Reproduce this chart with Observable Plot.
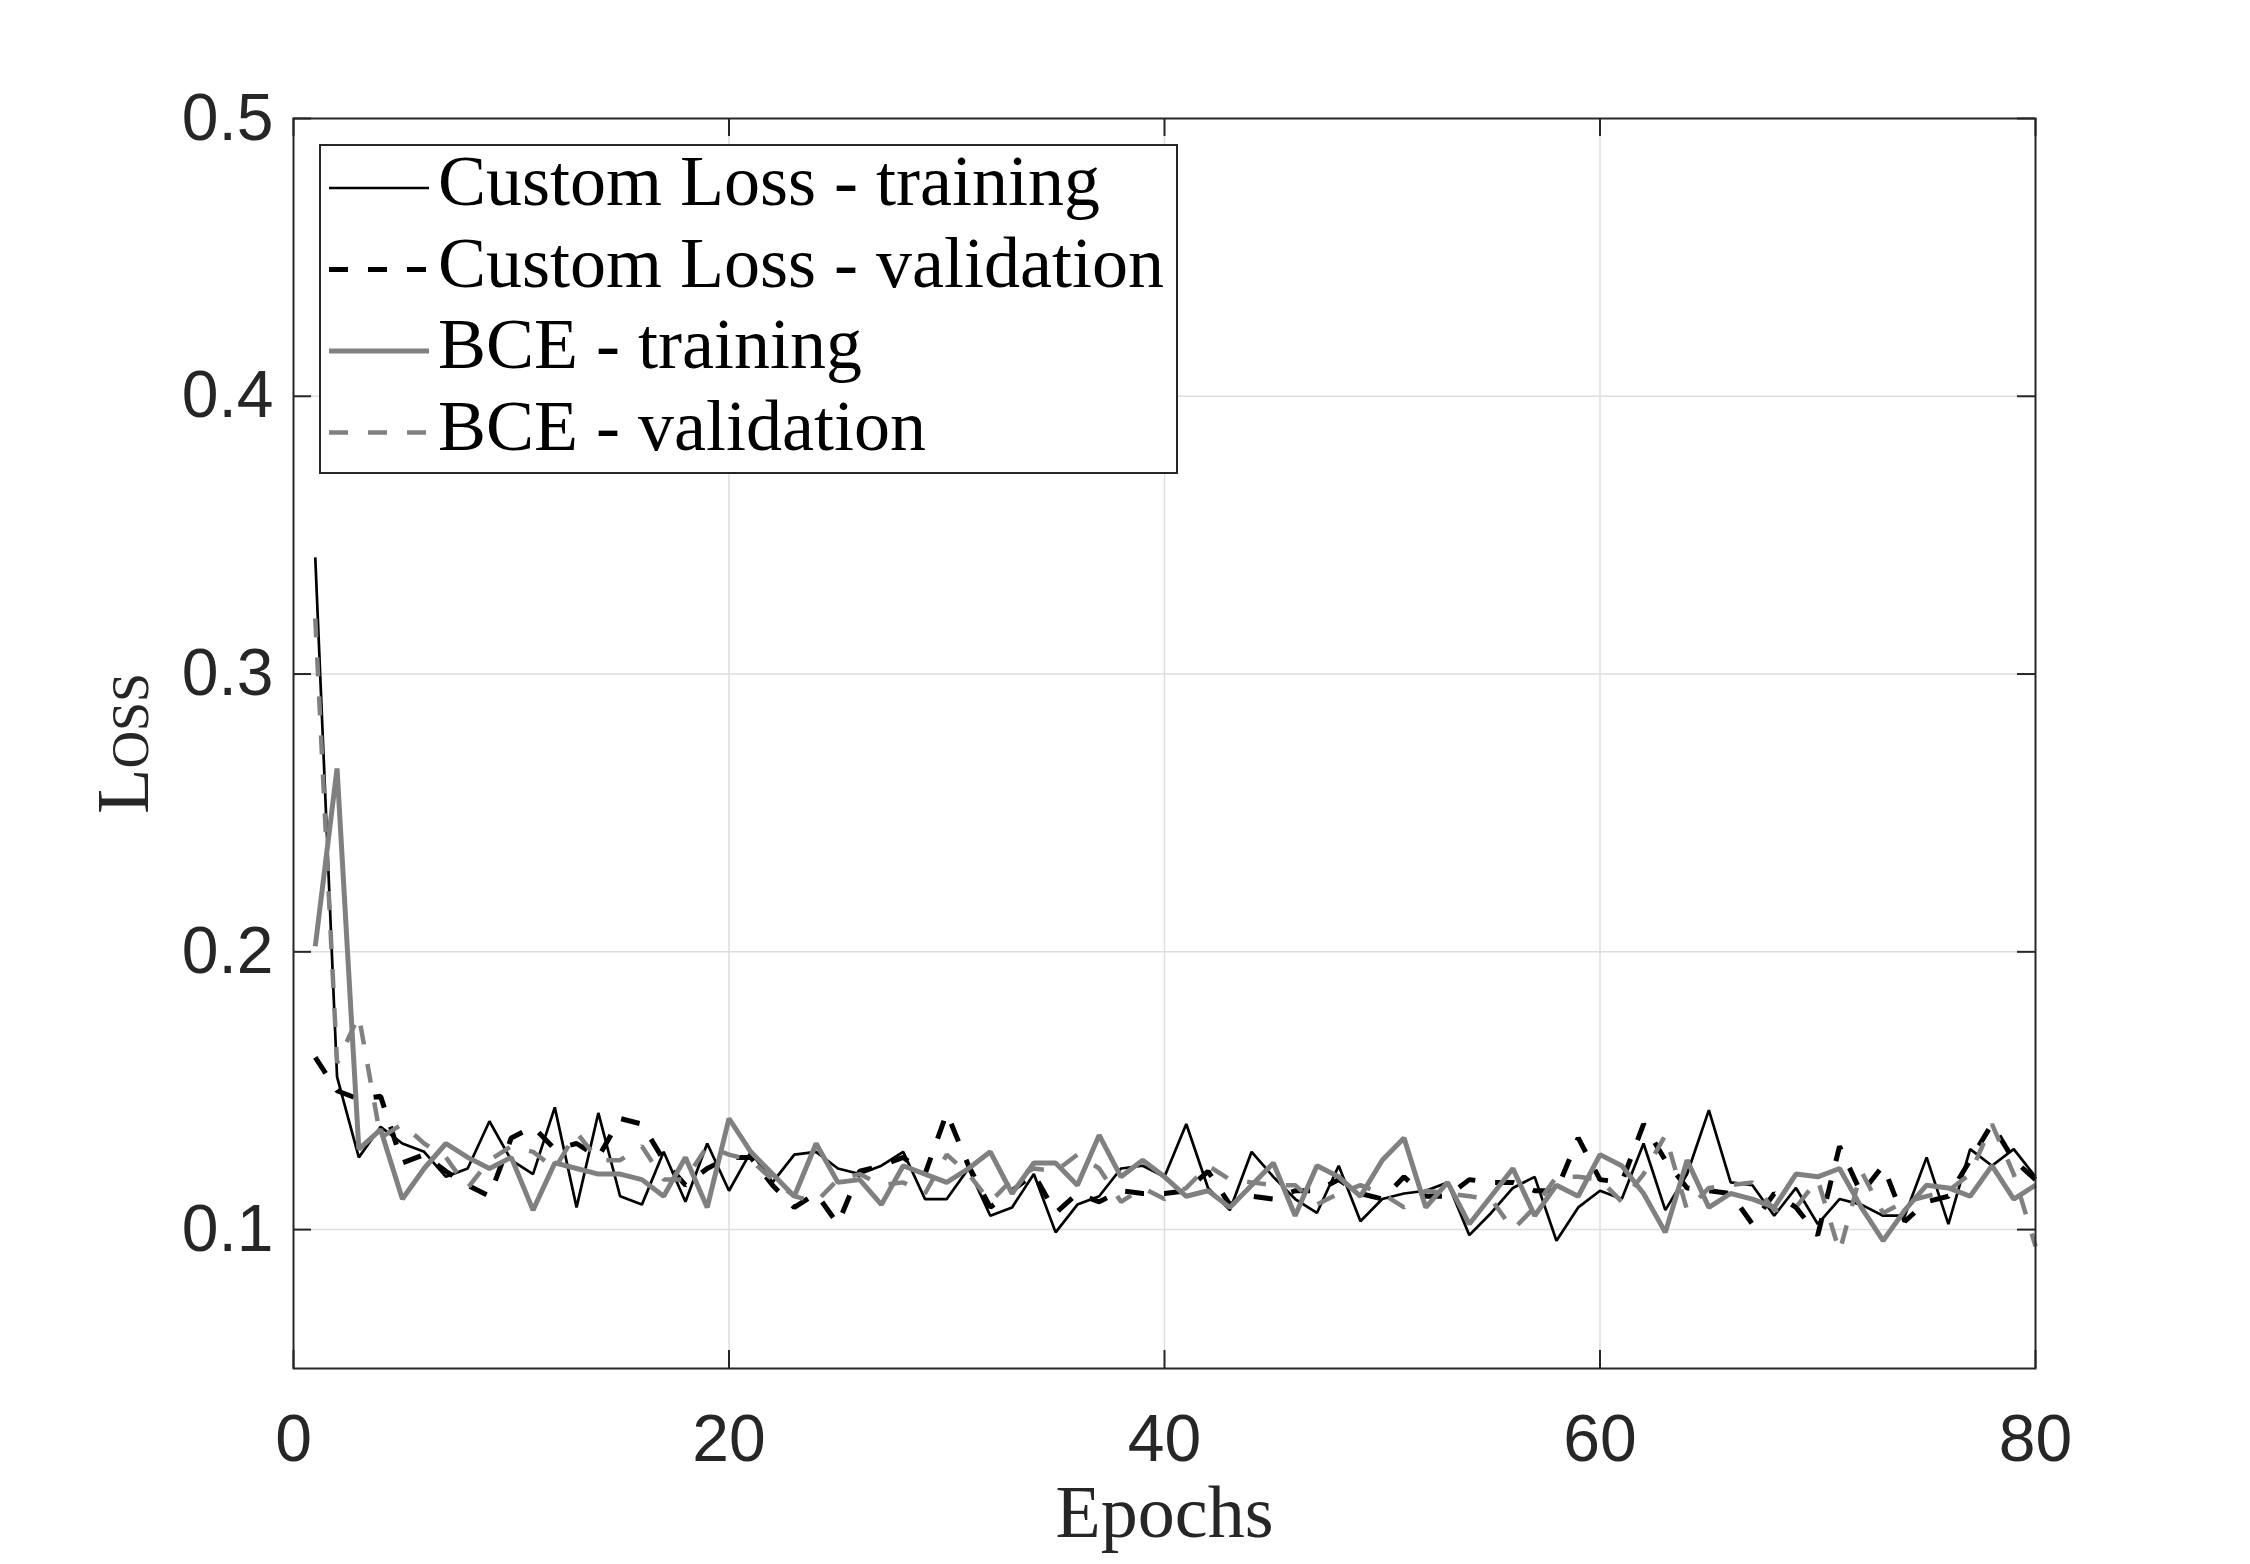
<!DOCTYPE html>
<html><head><meta charset="utf-8">
<script src="https://cdn.jsdelivr.net/npm/d3@7"></script>
<script src="https://cdn.jsdelivr.net/npm/@observablehq/plot@0.6"></script>
<style>
html,body{margin:0;padding:0;background:#fff;overflow:hidden}
#wrap{position:relative;width:2250px;height:1564px}
#legend{position:absolute;left:299px;top:114px;overflow:visible}
</style></head><body><div id="wrap"></div>
<script>
// ---- data ----
const seriesNames = ["Custom Loss - training", "Custom Loss - validation", "BCE - training", "BCE - validation"];
const xTicks = [0, 20, 40, 60, 80];
const yTicks = [0.1, 0.2, 0.3, 0.4, 0.5];

const customTraining = [
0.342,0.155,0.126,0.137,0.131,0.128,0.119,0.122,0.139,0.125,
0.120,0.144,0.108,0.142,0.112,0.109,0.128,0.110,0.131,0.114,
0.128,0.117,0.127,0.128,0.122,0.120,0.123,0.128,0.111,0.111,
0.122,0.105,0.108,0.120,0.099,0.109,0.112,0.122,0.123,0.119,
0.138,0.115,0.107,0.128,0.119,0.111,0.106,0.123,0.103,0.111,
0.113,0.114,0.117,0.098,0.106,0.115,0.119,0.096,0.108,0.114,
0.111,0.131,0.107,0.120,0.143,0.117,0.116,0.105,0.115,0.102,
0.111,0.109,0.105,0.105,0.126,0.102,0.129,0.123,0.129,0.119];

const customValidation = [
0.162,0.150,0.147,0.148,0.124,0.127,0.121,0.116,0.112,0.133,
0.137,0.129,0.131,0.126,0.140,0.138,0.125,0.116,0.122,0.126,
0.126,0.116,0.108,0.113,0.102,0.121,0.123,0.126,0.120,0.142,
0.123,0.108,0.114,0.120,0.106,0.113,0.110,0.114,0.113,0.113,
0.114,0.121,0.109,0.112,0.111,0.114,0.114,0.118,0.113,0.111,
0.119,0.112,0.112,0.118,0.117,0.117,0.114,0.114,0.133,0.118,
0.117,0.138,0.125,0.115,0.114,0.113,0.102,0.113,0.108,0.098,
0.130,0.113,0.123,0.103,0.110,0.112,0.125,0.138,0.125,0.118];

const bceTraining = [
0.202,0.266,0.129,0.136,0.111,0.122,0.131,0.126,0.122,0.126,
0.107,0.124,0.122,0.120,0.120,0.118,0.112,0.126,0.108,0.140,
0.128,0.120,0.112,0.131,0.117,0.118,0.109,0.123,0.120,0.117,
0.122,0.128,0.113,0.124,0.124,0.116,0.134,0.119,0.125,0.119,
0.112,0.114,0.108,0.116,0.124,0.105,0.123,0.119,0.112,0.125,
0.133,0.108,0.117,0.102,0.112,0.122,0.105,0.116,0.112,0.127,
0.123,0.113,0.099,0.125,0.108,0.113,0.111,0.108,0.120,0.119,
0.122,0.108,0.096,0.107,0.116,0.115,0.112,0.123,0.111,0.116];

const bceValidation = [
0.320,0.160,0.177,0.133,0.138,0.131,0.126,0.115,0.125,0.130,
0.128,0.122,0.135,0.125,0.125,0.130,0.118,0.118,0.130,0.127,
0.125,0.118,0.112,0.110,0.118,0.120,0.116,0.117,0.113,0.127,
0.120,0.110,0.118,0.122,0.121,0.127,0.122,0.110,0.115,0.111,
0.115,0.123,0.118,0.117,0.116,0.116,0.109,0.113,0.116,0.113,
0.108,0.114,0.113,0.112,0.111,0.100,0.108,0.119,0.119,0.118,
0.110,0.120,0.134,0.107,0.115,0.116,0.117,0.107,0.108,0.118,
0.092,0.121,0.106,0.110,0.112,0.114,0.120,0.138,0.120,0.094];

// ---- layout / styles ----
const W = 2250, H = 1564, mL = 293, mR = 215, mT = 118, mB = 196;
const pw = W - mL - mR, ph = H - mT - mB, tickLen = 18;
const axisColor = "#262626";
const styles = [
  {stroke: "#000000", strokeWidth: 2.7, dash: null},
  {stroke: "#000000", strokeWidth: 5, dash: "19,20"},
  {stroke: "#808080", strokeWidth: 5, dash: null},
  {stroke: "#808080", strokeWidth: 4.5, dash: "19,20"}
];
const allSeries = [customTraining, customValidation, bceTraining, bceValidation];
const tables = allSeries.map(vals => vals.map((v, i) => ({epoch: i + 1, loss: v})));

const lineMarks = tables.map((t, k) => Plot.line(t, {
  x: "epoch", y: "loss",
  stroke: styles[k].stroke, strokeWidth: styles[k].strokeWidth,
  strokeDasharray: styles[k].dash, strokeLinejoin: "miter", strokeLinecap: "butt"
}));

const tickStyle = {stroke: axisColor, strokeWidth: 2};
const serif = "'Liberation Serif', 'Times New Roman', serif";

const chart = Plot.plot({
  width: W, height: H,
  marginLeft: mL, marginRight: mR, marginTop: mT, marginBottom: mB,
  x: {domain: [0, 80]},
  y: {domain: [0.05, 0.5]},
  style: {fontFamily: "'Liberation Sans', Arial, sans-serif", background: "#fff", color: axisColor},
  marks: [
    Plot.gridX(xTicks.slice(1, -1), {stroke: "#dedede", strokeOpacity: 1, strokeWidth: 1.5}),
    Plot.gridY(yTicks.slice(0, -1), {stroke: "#dedede", strokeOpacity: 1, strokeWidth: 1.5}),
    ...lineMarks,
    Plot.tickY(yTicks, {y: d => d, insetRight: pw - tickLen, ...tickStyle}),
    Plot.tickY(yTicks, {y: d => d, insetLeft: pw - tickLen, ...tickStyle}),
    Plot.tickX(xTicks, {x: d => d, insetTop: ph - tickLen, ...tickStyle}),
    Plot.tickX(xTicks, {x: d => d, insetBottom: ph - tickLen, ...tickStyle}),
    Plot.frame({stroke: axisColor, strokeWidth: 2}),
    Plot.axisX({ticks: xTicks, tickSize: 0, tickPadding: 46, fontSize: 66, anchor: "bottom", label: null}),
    Plot.axisY({ticks: yTicks, tickSize: 0, tickPadding: 20, fontSize: 66, anchor: "left", label: null, tickFormat: d3.format(".1f")}),
    Plot.text(["Epochs"], {text: d => d, frameAnchor: "bottom", dy: 168, lineAnchor: "bottom", textAnchor: "middle", fontSize: 74, fontFamily: serif, fill: axisColor}),
    Plot.text(["Loss"], {text: d => d, frameAnchor: "left", dx: -146, rotate: -90, lineAnchor: "bottom", textAnchor: "middle", fontSize: 74, fontFamily: serif, fontVariant: "small-caps", fill: axisColor})
  ]
});
const wrap = document.getElementById("wrap");
wrap.appendChild(chart);

// ---- legend overlay (svg padded by 20 left, 30 top so text ascenders are not clipped) ----
const lw = 859, lh = 330, padX = 20, padY = 30;
const leg = d3.select(wrap).append("svg").attr("id", "legend")
  .attr("width", lw + 2 * padX).attr("height", lh + 2 * padY);
const g = leg.append("g").attr("transform", `translate(${padX},${padY})`);
g.append("rect").attr("x", 1).attr("y", 1).attr("width", lw - 2).attr("height", lh - 2)
  .attr("fill", "#fff").attr("stroke", axisColor).attr("stroke-width", 2);
seriesNames.forEach((name, k) => {
  const cy = 44 + k * 81.5;
  g.append("line").attr("x1", 10).attr("x2", 110).attr("y1", cy).attr("y2", cy)
    .attr("stroke", styles[k].stroke).attr("stroke-width", styles[k].strokeWidth)
    .attr("stroke-dasharray", styles[k].dash);
  g.append("text").attr("x", 119).attr("y", cy + 17).text(name)
    .attr("font-family", serif).attr("font-size", 72).attr("fill", "#000");
});
</script></body></html>
